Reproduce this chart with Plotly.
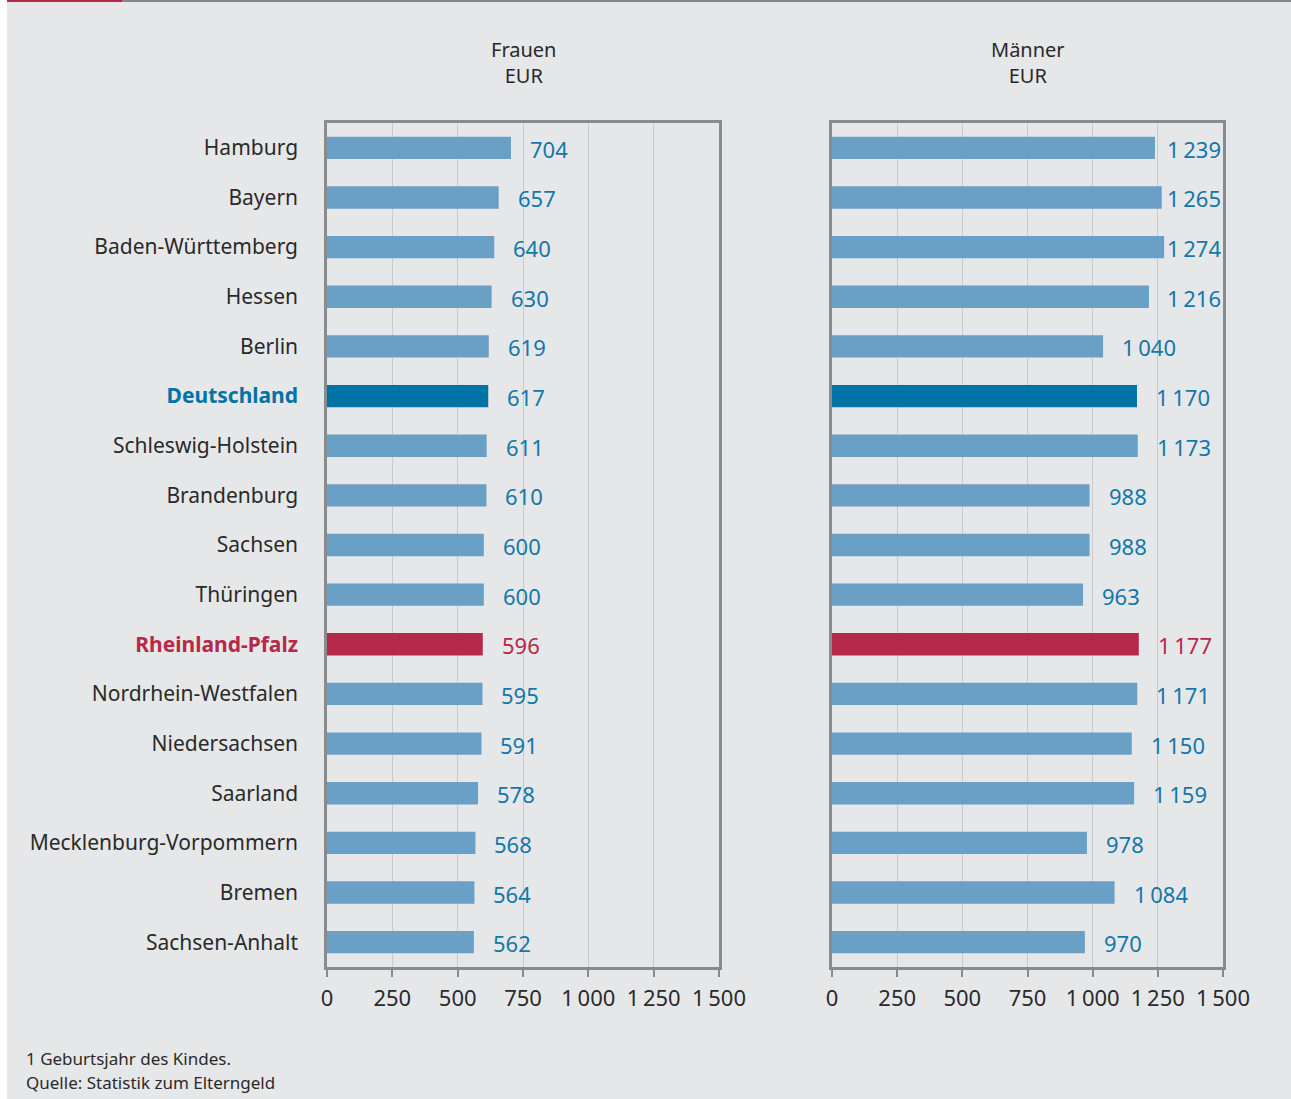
import plotly.graph_objects as go

W, H = 1291, 1099

laender = ["Hamburg", "Bayern", "Baden-Württemberg", "Hessen", "Berlin", "Deutschland",
           "Schleswig-Holstein", "Brandenburg", "Sachsen", "Thüringen", "Rheinland-Pfalz",
           "Nordrhein-Westfalen", "Niedersachsen", "Saarland", "Mecklenburg-Vorpommern",
           "Bremen", "Sachsen-Anhalt"]
frauen = [704, 657, 640, 630, 619, 617, 611, 610, 600, 600, 596, 595, 591, 578, 568, 564, 562]
maenner = [1239, 1265, 1274, 1216, 1040, 1170, 1173, 988, 988, 963, 1177, 1171, 1150, 1159, 978, 1084, 970]
x_ticks = [0, 250, 500, 750, 1000, 1250, 1500]
x_ticktext = ["0", "250", "500", "750", "1\u202f000", "1\u202f250", "1\u202f500"]

BG = "#e6e7e8"
BAR = "#6a9fc6"
DE = "#0073a6"
RP = "#b8284a"
LBL = "#1278aa"
FRAME = "#8a8b8e"
GRID = "#c9cacc"
TXT = "#2a2a2a"
FONT = "Noto Sans"

# panel geometry (pixels)
PANELS = [(327, 719), (832, 1223)]
XMAX = 1500

def bar_color(name):
    if name == "Deutschland":
        return DE
    if name == "Rheinland-Pfalz":
        return RP
    return BAR

def lbl_color(name):
    return RP if name == "Rheinland-Pfalz" else LBL

def fmt(v):
    return f"{v:,}".replace(",", "\u202f")

def ytick(name):
    if name == "Deutschland":
        return f"<b><span style='color:{DE}'>{name}</span></b>"
    if name == "Rheinland-Pfalz":
        return f"<b><span style='color:{RP}'>{name}</span></b>"
    return name

fig = go.Figure()
for vals, xa, ya in [(frauen, "x", "y"), (maenner, "x2", "y2")]:
    fig.add_trace(go.Bar(
        x=vals, y=laender, orientation="h", xaxis=xa, yaxis=ya,
        marker=dict(color=[bar_color(n) for n in laender], line=dict(width=0)),
        width=0.45, showlegend=False, hoverinfo="x+y"))

annotations = []
for (vals, xr, yr), (p0, p1) in zip([(frauen, "x", "y"), (maenner, "x2", "y2")], PANELS):
    scale = (p1 - p0) / XMAX
    for n, v in zip(laender, vals):
        txt = fmt(v)
        est_w = 11.5 * len(txt.replace("\u202f", "")) + 4 * txt.count("\u202f")
        room = (p1 - 8) - est_w - (p0 + v * scale)
        shift = max(1, min(17, room))
        annotations.append(dict(
            x=v, y=n, xref=xr, yref=yr, text=txt, showarrow=False,
            xanchor="left", yanchor="middle", xshift=shift, yshift=-1,
            font=dict(family=FONT, size=22, color=lbl_color(n))))

y_top = 1 - 123 / H
y_bot = 1 - 967 / H

annotations += [
    dict(x=(327 + 719) / 2 / W, y=1 - 63 / H, xref="paper", yref="paper",
         text="Frauen<br>EUR", showarrow=False, xanchor="center", yanchor="middle",
         font=dict(family=FONT, size=20, color=TXT)),
    dict(x=(832 + 1223) / 2 / W, y=1 - 63 / H, xref="paper", yref="paper",
         text="Männer<br>EUR", showarrow=False, xanchor="center", yanchor="middle",
         font=dict(family=FONT, size=20, color=TXT)),
    dict(x=24 / W, y=1 - 1058 / H, xref="paper", yref="paper",
         text="1 Geburtsjahr des Kindes.", showarrow=False, xanchor="left", yanchor="middle",
         font=dict(family=FONT, size=17, color=TXT)),
    dict(x=24 / W, y=1 - 1082 / H, xref="paper", yref="paper",
         text="Quelle: Statistik zum Elterngeld", showarrow=False, xanchor="left", yanchor="middle",
         font=dict(family=FONT, size=17, color=TXT)),
]

xcommon = dict(range=[0, XMAX], tickvals=x_ticks, ticktext=x_ticktext,
               showgrid=True, gridcolor=GRID, gridwidth=1,
               showline=True, linecolor=FRAME, linewidth=2.5, mirror=True,
               ticks="outside", ticklen=7, tickwidth=2, tickcolor=FRAME,
               tickfont=dict(family=FONT, size=22, color=TXT), zeroline=False,
               ticklabelstandoff=3, fixedrange=True, automargin=False)
ycommon = dict(range=[16.5, -0.5], type="category",
               showline=True, linecolor=FRAME, linewidth=2.5, mirror=True,
               showgrid=False, zeroline=False, ticks="", fixedrange=True, automargin=False)

fig.update_layout(
    width=W, height=H, autosize=False,
    margin=dict(l=0, r=0, t=0, b=0, pad=0, autoexpand=False),
    paper_bgcolor=BG, plot_bgcolor=BG, bargap=0.55,
    font=dict(family=FONT, color=TXT),
    xaxis=dict(domain=[PANELS[0][0] / W, PANELS[0][1] / W], anchor="y", **xcommon),
    xaxis2=dict(domain=[PANELS[1][0] / W, PANELS[1][1] / W], anchor="y2", **xcommon),
    yaxis=dict(domain=[y_bot, y_top], anchor="x", tickvals=laender,
               ticktext=[ytick(n) for n in laender], ticklabelstandoff=22,
               tickfont=dict(family=FONT, size=21, color=TXT), **ycommon),
    yaxis2=dict(domain=[y_bot, y_top], anchor="x2", showticklabels=False, **ycommon),
    annotations=annotations,
    shapes=[
        dict(type="rect", xref="paper", yref="paper", x0=0, x1=7 / W, y0=0, y1=1,
             fillcolor="white", line=dict(width=0), layer="below"),
        dict(type="rect", xref="paper", yref="paper", x0=7 / W, x1=122 / W,
             y0=1 - 2 / H, y1=1, fillcolor=RP, line=dict(width=0)),
        dict(type="rect", xref="paper", yref="paper", x0=122 / W, x1=1,
             y0=1 - 2 / H, y1=1, fillcolor="#858688", line=dict(width=0)),
    ],
)

fig.write_html(
    "out.html",
    config={"responsive": False, "displayModeBar": False},
    post_script="document.documentElement.style.overflow='hidden';document.body.style.margin='0';document.body.style.overflow='hidden';",
)
